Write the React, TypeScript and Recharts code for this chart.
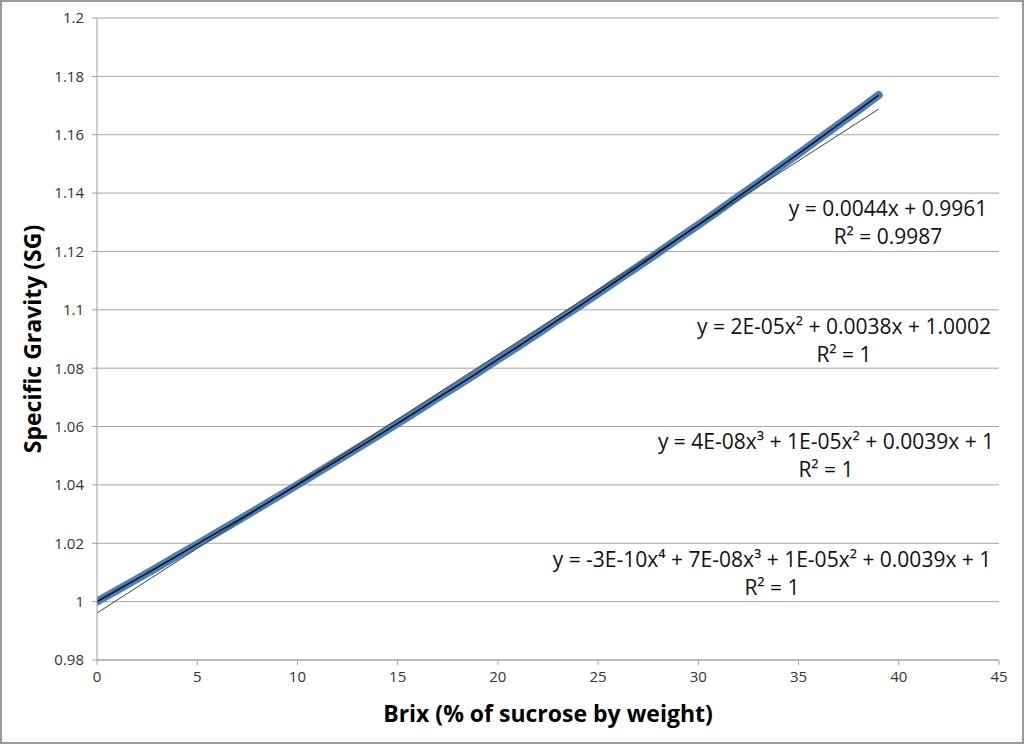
import React from "react";
import { LineChart, Line, XAxis, YAxis, CartesianGrid } from "recharts";

// Brix (% sucrose by weight) vs specific gravity
const brix = [
  0, 1, 2, 3, 4, 5, 6, 7, 8, 9, 10, 11, 12, 13, 14, 15, 16, 17, 18, 19,
  20, 21, 22, 23, 24, 25, 26, 27, 28, 29, 30, 31, 32, 33, 34, 35, 36, 37, 38, 39,
];
const sg = [
  1.0, 1.0039, 1.0078, 1.0117, 1.0157, 1.0197, 1.0237, 1.0277, 1.0318, 1.0359,
  1.04, 1.0442, 1.0484, 1.0526, 1.0568, 1.0611, 1.0654, 1.0698, 1.0741, 1.0785,
  1.083, 1.0874, 1.0919, 1.0965, 1.101, 1.1056, 1.1103, 1.1149, 1.1196, 1.1244,
  1.1291, 1.1339, 1.1388, 1.1436, 1.1486, 1.1535, 1.1585, 1.1635, 1.1685, 1.1736,
];

// linear trendline end points
const linBrix = [0, 39];
const linSg = [0.9961, 1.1688];

const xTicks = [0, 5, 10, 15, 20, 25, 30, 35, 40, 45];
const yTicks = [0.98, 1.0, 1.02, 1.04, 1.06, 1.08, 1.1, 1.12, 1.14, 1.16, 1.18, 1.2];

const points = brix.map((b, i) => ({ x: b, y: sg[i] }));
const linear = linBrix.map((b, i) => ({ x: b, y: linSg[i] }));

const font = "'Open Sans', sans-serif";
const eqStyle = { fontFamily: font, fontSize: 21, fill: "#111" };

const labels = [
  { cx: 888, y: 216, l1: "y = 0.0044x + 0.9961", l2: "R² = 0.9987" },
  { cx: 844, y: 334, l1: "y = 2E-05x² + 0.0038x + 1.0002", l2: "R² = 1" },
  { cx: 826, y: 449, l1: "y = 4E-08x³ + 1E-05x² + 0.0039x + 1", l2: "R² = 1" },
  { cx: 772, y: 567, l1: "y = -3E-10x⁴ + 7E-08x³ + 1E-05x² + 0.0039x + 1", l2: "R² = 1" },
];

const fmt = (v: number) => String(Number(v.toFixed(2)));

export default function App() {
  return (
    <div style={{ position: "absolute", left: 0, top: 0, width: 1024, height: 744, background: "#fff" }}>
      <div
        style={{
          position: "absolute",
          left: 0,
          top: 0,
          width: 1024,
          height: 744,
          boxSizing: "border-box",
          border: "2px solid #9a9a9a",
        }}
      />
      <div style={{ position: "absolute", left: 0, top: 0 }}>
        <LineChart width={1024} height={744} margin={{ top: 18, right: 25, bottom: 0, left: 0 }}>
          <CartesianGrid vertical={false} stroke="#a6a6a6" />
          <XAxis
            type="number"
            dataKey="x"
            domain={[0, 45]}
            ticks={xTicks}
            allowDataOverflow
            height={84}
            stroke="#a0a0a0"
            tickSize={5}
            tickMargin={6}
            tick={{ fill: "#333", fontFamily: font, fontSize: 15 }}
            label={{
              value: "Brix (% of sucrose by weight)",
              position: "insideBottom",
              offset: 22,
              style: { fontFamily: font, fontWeight: 700, fontSize: 23, fill: "#000" },
            }}
          />
          <YAxis
            type="number"
            dataKey="y"
            domain={[0.98, 1.2]}
            ticks={yTicks}
            allowDataOverflow
            width={97}
            stroke="#a0a0a0"
            tickSize={5}
            tickMargin={8}
            tickFormatter={fmt}
            tick={{ fill: "#333", fontFamily: font, fontSize: 15 }}
            label={{
              value: "Specific Gravity (SG)",
              angle: -90,
              position: "insideLeft",
              offset: 33,
              style: { textAnchor: "middle", fontFamily: font, fontWeight: 700, fontSize: 23, fill: "#000" },
            }}
          />
          <Line
            data={points}
            dataKey="y"
            stroke="#4a7ebb"
            strokeWidth={8}
            strokeLinecap="round"
            dot={false}
            isAnimationActive={false}
          />
          <Line
            data={linear}
            dataKey="y"
            stroke="#404040"
            strokeWidth={1}
            dot={false}
            isAnimationActive={false}
          />
          <Line
            data={points}
            dataKey="y"
            stroke="#111"
            strokeWidth={1.5}
            dot={false}
            isAnimationActive={false}
          />
          {labels.map((lb, i) => (
            <g key={i}>
              <text x={lb.cx} y={lb.y} textAnchor="middle" style={eqStyle}>
                {lb.l1}
              </text>
              <text x={lb.cx} y={lb.y + 28} textAnchor="middle" style={eqStyle}>
                {lb.l2}
              </text>
            </g>
          ))}
        </LineChart>
      </div>
    </div>
  );
}
